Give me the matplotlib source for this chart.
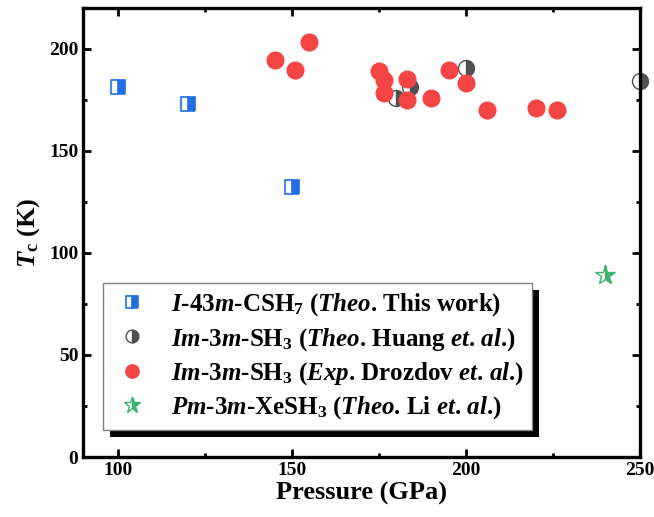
import matplotlib
matplotlib.use('Agg')
import matplotlib.pyplot as plt
import matplotlib.patheffects as pe
from matplotlib.ticker import MultipleLocator

# --- data ---
csh7_p = [100, 120, 150]
csh7_tc = [181, 173, 132]

sh3_theo_p = [180, 184, 200, 250]
sh3_theo_tc = [176, 181, 190.5, 184]

sh3_exp_p = [145, 151, 155, 175, 176.5, 176.5, 183, 183, 190, 195, 200, 206, 220, 226]
sh3_exp_tc = [194.5, 189.5, 203, 189, 184.5, 178.5, 185, 175, 176, 189.5, 183, 170, 171, 170]

xesh3_p = [240]
xesh3_tc = [89]

labels = [
    r'$I$-43$m$-CSH$_7$ ($Theo$. This work)',
    r'$Im$-3$m$-SH$_3$ ($Theo$. Huang $et$. $al$.)',
    r'$Im$-3$m$-SH$_3$ ($Exp$. Drozdov $et$. $al$.)',
    r'$Pm$-3$m$-XeSH$_3$ ($Theo$. Li $et$. $al$.)',
]

plt.rcParams['font.family'] = 'Liberation Serif'
plt.rcParams['font.weight'] = 'bold'
plt.rcParams['mathtext.fontset'] = 'custom'
plt.rcParams['mathtext.rm'] = 'Liberation Serif:bold'
plt.rcParams['mathtext.it'] = 'Liberation Serif:italic:bold'
plt.rcParams['mathtext.bf'] = 'Liberation Serif:bold'

fig = plt.figure(figsize=(6.54, 5.17), dpi=100)
ax = fig.add_axes([0.127, 0.116, 0.852, 0.869])

blue = '#1f6fe0'
red = '#f44444'
grey = '#505050'
green = '#3cb371'

ax.plot(csh7_p, csh7_tc, ls='none', marker='s', ms=10, fillstyle='right',
        color=blue, markerfacecoloralt='white', mec=blue, mew=1.2, label=labels[0], zorder=3)
ax.plot(sh3_exp_p, sh3_exp_tc, ls='none', marker='o', ms=12, color=red,
        mec=red, label=labels[2], zorder=3)
ax.plot(sh3_theo_p, sh3_theo_tc, ls='none', marker='o', ms=11.5, fillstyle='right',
        color=grey, markerfacecoloralt='white', mec=grey, mew=1.0, label=labels[1], zorder=2,
        clip_on=False)
ax.plot(xesh3_p, xesh3_tc, ls='none', marker='*', ms=15, fillstyle='right',
        color=green, markerfacecoloralt='white', mec=green, mew=1.0, label=labels[3], zorder=3,
        clip_on=False)

ax.set_xlim(90, 250)
ax.set_ylim(0, 220)
ax.xaxis.set_major_locator(MultipleLocator(50))
ax.xaxis.set_minor_locator(MultipleLocator(25))
ax.yaxis.set_major_locator(MultipleLocator(50))
ax.yaxis.set_minor_locator(MultipleLocator(25))
ax.tick_params(which='both', direction='in', top=True, right=True, width=2, labelsize=14)
ax.tick_params(which='major', length=6)
ax.tick_params(which='minor', length=3)
for s in ax.spines.values():
    s.set_linewidth(2.4)
for lb in ax.get_xticklabels() + ax.get_yticklabels():
    lb.set_fontweight('bold')

ax.set_xlabel('Pressure (GPa)', fontsize=19, fontweight='bold', labelpad=2)
ax.set_ylabel(r'$T_{\rm c}$ (K)', fontsize=19, fontweight='bold', labelpad=5)

h, l = ax.get_legend_handles_labels()
order = [0, 2, 1, 3]
leg = ax.legend([h[i] for i in order], [l[i] for i in order], loc='lower left',
                bbox_to_anchor=(0.036, 0.06), borderaxespad=0, fontsize=18, frameon=True,
                fancybox=False, edgecolor='#808080', framealpha=1, labelspacing=0.3,
                handletextpad=0.75, borderpad=0.35, handlelength=1.6, markerscale=0.8)
leg.get_frame().set_linewidth(1.0)
leg.get_frame().set_path_effects([pe.SimplePatchShadow(offset=(5, -5), shadow_rgbFace='black', alpha=1),
                                  pe.Normal()])

fig.savefig('out.png', dpi=100)
